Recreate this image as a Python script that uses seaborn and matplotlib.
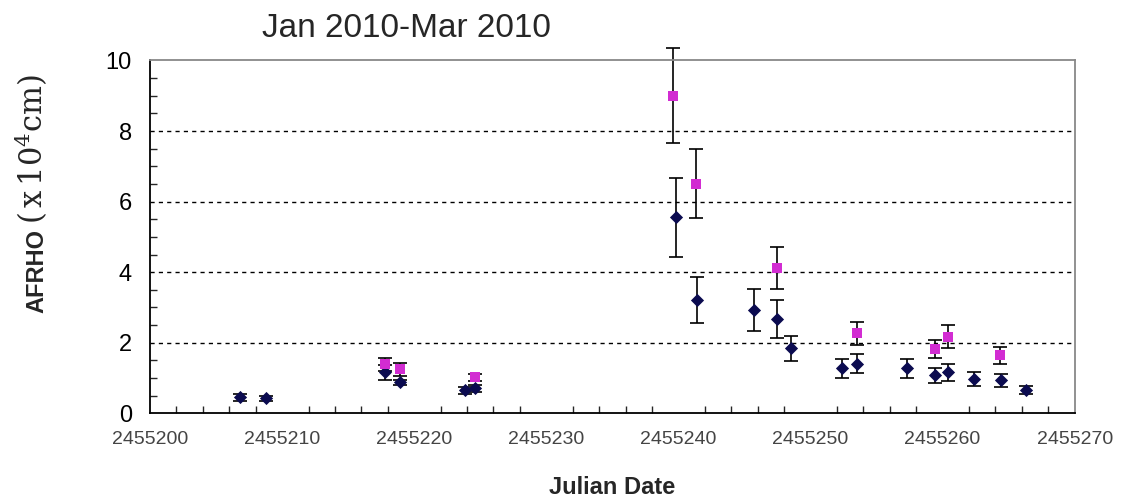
import matplotlib
matplotlib.use("Agg")
import matplotlib.pyplot as plt
import seaborn as sns
import pandas as pd
from matplotlib.ticker import MultipleLocator, FuncFormatter

# navy diamonds
navy_x = [2455206.8, 2455208.8, 2455217.8, 2455218.9, 2455223.85, 2455224.6,
          2455239.8, 2455241.4, 2455245.7, 2455247.5, 2455248.5, 2455252.4,
          2455253.5, 2455257.3, 2455259.4, 2455260.4, 2455262.4, 2455264.4, 2455266.3]
navy_y = [0.45, 0.43, 1.16, 0.88, 0.65, 0.71, 5.55, 3.2, 2.92, 2.66, 1.84, 1.27,
          1.41, 1.27, 1.08, 1.16, 0.98, 0.93, 0.66]
navy_err = [0.1, 0.07, 0.22, 0.07, 0.1, 0.1, 1.12, 0.65, 0.6, 0.54, 0.35, 0.26,
            0.27, 0.26, 0.21, 0.24, 0.2, 0.18, 0.12]

# magenta squares
mag_x = [2455217.8, 2455218.9, 2455224.6, 2455239.6, 2455241.3, 2455247.5,
         2455253.5, 2455259.4, 2455260.4, 2455264.35]
mag_y = [1.39, 1.25, 1.02, 9.0, 6.51, 4.11, 2.27, 1.83, 2.17, 1.64]
mag_err = [0.18, 0.18, 0.1, 1.35, 0.98, 0.6, 0.33, 0.26, 0.33, 0.24]

navy = "#0b0b50"
magenta = "#d22cd2"

sns.set_style("white")
plt.rcParams["font.family"] = ["Liberation Sans", "DejaVu Sans"]
plt.rcParams["mathtext.fontset"] = "dejavuserif"

fig = plt.figure(figsize=(11.23, 5.04), dpi=100)
ax = fig.add_axes([0.1336, 0.180, 0.8234, 0.700])

df_n = pd.DataFrame({"jd": navy_x, "afrho": navy_y})
df_m = pd.DataFrame({"jd": mag_x, "afrho": mag_y})

ax.errorbar(navy_x, navy_y, yerr=navy_err, fmt="none", ecolor="black",
            elinewidth=1.2, capsize=5, capthick=1.2, zorder=2, clip_on=False)
ax.errorbar(mag_x, mag_y, yerr=mag_err, fmt="none", ecolor="black",
            elinewidth=1.2, capsize=5, capthick=1.2, zorder=2, clip_on=False)
sns.scatterplot(data=df_n, x="jd", y="afrho", marker="D", color=navy, s=45,
                edgecolor=navy, linewidth=0, ax=ax, zorder=3)
sns.scatterplot(data=df_m, x="jd", y="afrho", marker="s", color=magenta, s=55,
                edgecolor=magenta, linewidth=0, ax=ax, zorder=3)

ax.set_xlim(2455200, 2455270)
ax.set_ylim(0, 10)
ax.xaxis.set_major_locator(MultipleLocator(10))
ax.xaxis.set_minor_locator(MultipleLocator(2))
ax.yaxis.set_major_locator(MultipleLocator(2))
ax.yaxis.set_minor_locator(MultipleLocator(0.5))
ax.xaxis.set_major_formatter(FuncFormatter(lambda v, p: f"{int(round(v))}"))
ax.yaxis.set_major_formatter(FuncFormatter(lambda v, p: f"{int(round(v))}"))

for yv in [2, 4, 6, 8]:
    ax.axhline(yv, color="black", linestyle=(0, (3, 3)), linewidth=1, zorder=1)

for s in ["left", "bottom"]:
    ax.spines[s].set_color("black")
    ax.spines[s].set_linewidth(1.3)
for s in ["top", "right"]:
    ax.spines[s].set_color("#888888")
    ax.spines[s].set_linewidth(1.3)

ax.tick_params(axis="y", which="major", direction="out", length=7, width=1.2,
               labelsize=17, pad=6, colors="black")
ax.tick_params(axis="y", which="minor", direction="in", length=5, width=1, left=True)
ax.tick_params(axis="x", which="major", direction="inout", length=12, width=1.2,
               labelsize=14, pad=7, labelcolor="#444444", color="black")
ax.tick_params(axis="x", which="minor", direction="in", length=5, width=1, bottom=True)

ax.set_xlabel("Julian Date", fontsize=17, fontweight="bold", labelpad=20)
ax.set_ylabel("")
fig.text(0.0385, 0.378, "AFRHO", rotation=90, rotation_mode="anchor",
         ha="left", va="baseline", fontsize=17, fontweight="bold")
fig.text(0.0385, 0.556, r"$(\,\mathrm{x}\,10^4\mathrm{cm})$", rotation=90,
         rotation_mode="anchor", ha="left", va="baseline", fontsize=22)
fig.text(0.233, 0.913, "Jan 2010-Mar 2010", fontsize=24, ha="left", va="bottom")

fig.savefig("out.png", dpi=100)
